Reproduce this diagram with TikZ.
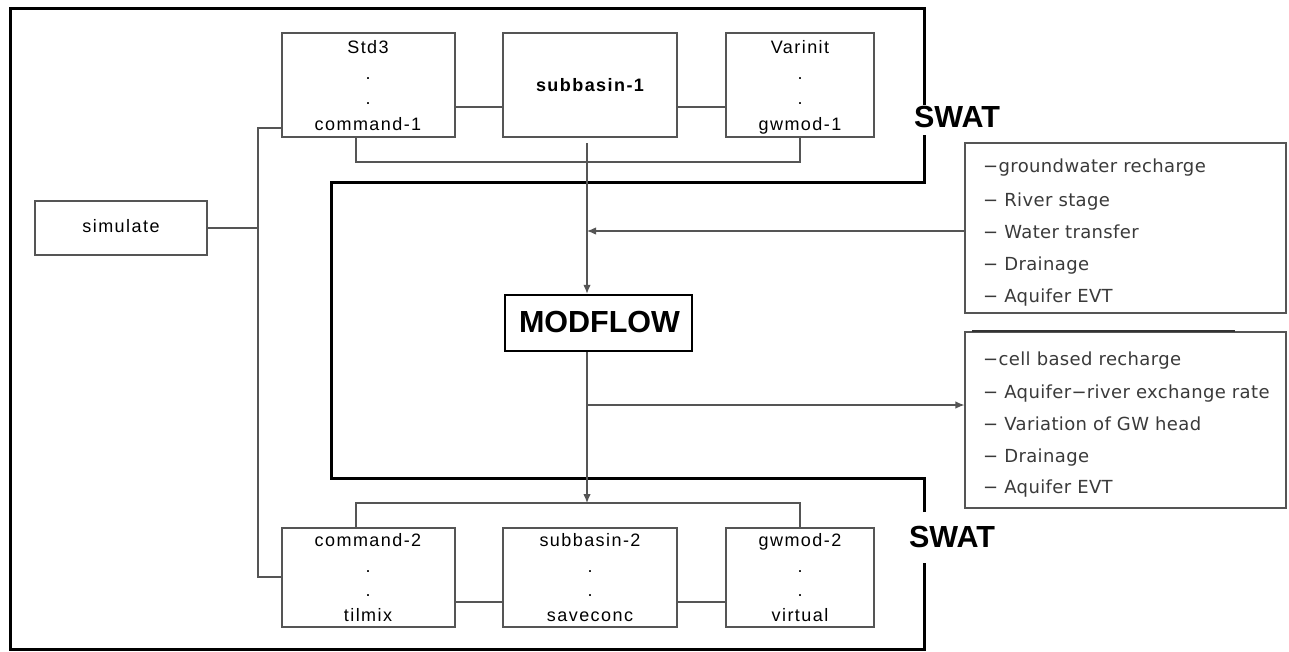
\documentclass[tikz,border=0pt]{standalone}
\usepackage{fontspec}
\usetikzlibrary{arrows.meta}
\setmainfont{Liberation Sans}
\newfontfamily\boxfont[LetterSpace=8]{Liberation Sans}
\newfontfamily\infofont[LetterSpace=2]{DejaVu Sans}
\newfontfamily\headfont{Liberation Sans}
\definecolor{linegray}{HTML}{555555}
\definecolor{infogray}{HTML}{3A3A3A}
\begin{document}
\begin{tikzpicture}[x=1pt,y=-1pt,
  thinline/.style={draw=linegray,line width=1.2pt},
  procbox/.style={thinline,fill=white,minimum width=#1,inner sep=0pt,anchor=center},
  boxtxt/.style={anchor=base,inner sep=0pt,font=\boxfont\fontsize{18}{20}\selectfont},
  infotxt/.style={anchor=base west,inner sep=0pt,text=infogray,font=\infofont\fontsize{18}{20}\selectfont},
  headtxt/.style={anchor=base,inner sep=0pt,font=\headfont\bfseries\fontsize{30.5}{32}\selectfont},
  frame/.style={line width=3pt,draw=black},
  tip/.style={-{Latex[length=9pt,width=7.5pt]}}]

\useasboundingbox[fill=white] (0,0) rectangle (1289,651);

% SWAT / MODFLOW outline
\draw[frame,line join=miter] (924,105) -- (924,8) -- (10,8) -- (10,649) -- (924,649) -- (924,563);
\draw[frame,line join=miter] (924,512) -- (924,478) -- (331,478) -- (331,182) -- (924,182) -- (924,135);
\node[headtxt] (swat1) at (957,127) {SWAT};
\node[headtxt] (swat2) at (952,547) {SWAT};

% upper SWAT row
\node[procbox=173pt,minimum height=104pt] (std3) at (368.5,85) {};
\node[procbox=174pt,minimum height=104pt] (sub1) at (590,85) {};
\node[procbox=148pt,minimum height=104pt] (var1) at (800,85) {};
\node[boxtxt] (t11) at (368,53) {Std3};
\node[boxtxt] (t12) at (368,79) {.};
\node[boxtxt] (t13) at (368,104) {.};
\node[boxtxt] (t14) at (368,130) {command-1};
\node[boxtxt,font=\boxfont\bfseries\fontsize{18}{20}\selectfont] (t21) at (590,91) {subbasin-1};
\node[boxtxt] (t31) at (800,53) {Varinit};
\node[boxtxt] (t32) at (800,79) {.};
\node[boxtxt] (t33) at (800,104) {.};
\node[boxtxt] (t34) at (800,130) {gwmod-1};

% lower SWAT row
\node[procbox=173pt,minimum height=99pt] (cmd2) at (368.5,577.5) {};
\node[procbox=174pt,minimum height=99pt] (sub2) at (590,577.5) {};
\node[procbox=148pt,minimum height=99pt] (gw2) at (800,577.5) {};
\node[boxtxt] (b11) at (368,546) {command-2};
\node[boxtxt] (b12) at (368,572) {.};
\node[boxtxt] (b13) at (368,596) {.};
\node[boxtxt] (b14) at (368,621) {tilmix};
\node[boxtxt] (b21) at (590,546) {subbasin-2};
\node[boxtxt] (b22) at (590,572) {.};
\node[boxtxt] (b23) at (590,596) {.};
\node[boxtxt] (b24) at (590,621) {saveconc};
\node[boxtxt] (b31) at (800,546) {gwmod-2};
\node[boxtxt] (b32) at (800,572) {.};
\node[boxtxt] (b33) at (800,596) {.};
\node[boxtxt] (b34) at (800,621) {virtual};

% driver and model
\node[procbox=172pt,minimum height=54pt] (sim) at (121,228) {};
\node[boxtxt] (simt) at (121,232) {simulate};
\node[draw=black,line width=2.5pt,fill=white,minimum width=187pt,minimum height=56pt,inner sep=0pt] (mf) at (598.5,323) {};
\node[headtxt] (mft) at (599.5,332) {MODFLOW};

% exchanged variables
\node[procbox=321pt,minimum height=170pt] (info1) at (1125.5,228) {};
\node[procbox=321pt,minimum height=176pt] (info2) at (1125.5,420) {};
\draw[line width=2pt,draw=black!80] (972,331) -- (1235,331);
\node[infotxt] (i11) at (983,172) {−groundwater recharge};
\node[infotxt] (i12) at (983,206) {− River stage};
\node[infotxt] (i13) at (983,238) {− Water transfer};
\node[infotxt] (i14) at (983,270) {− Drainage};
\node[infotxt] (i15) at (983,302) {− Aquifer EVT};
\node[infotxt] (i21) at (983,365) {−cell based recharge};
\node[infotxt] (i22) at (983,398) {− Aquifer−river exchange rate};
\node[infotxt] (i23) at (983,430) {− Variation of GW head};
\node[infotxt] (i24) at (983,462) {− Drainage};
\node[infotxt] (i25) at (983,493) {− Aquifer EVT};

% connectors
\coordinate (busT) at (258,128);
\coordinate (busB) at (258,577);
\draw[thinline] (std3.west |- busT) -- (busT) -- (busB) -- (cmd2.west |- busB);
\draw[thinline] (sim.east) -- (sim.east -| busT);

\coordinate (rowT) at (0,107);
\draw[thinline] (std3.east |- rowT) -- (sub1.west |- rowT);
\draw[thinline] (sub1.east |- rowT) -- (var1.west |- rowT);
\coordinate (brT) at (356,162);
\draw[thinline] (std3.south -| brT) -- (brT) -- (var1.south |- brT) -- (var1.south);

\coordinate (rowB) at (0,602);
\draw[thinline] (cmd2.east |- rowB) -- (sub2.west |- rowB);
\draw[thinline] (sub2.east |- rowB) -- (gw2.west |- rowB);
\coordinate (brB) at (356,503);
\draw[thinline] (cmd2.north -| brB) -- (brB) -- (gw2.north |- brB) -- (gw2.north);

\coordinate (trunkT) at (587,143);
\coordinate (inJ) at (587,231);
\coordinate (outJ) at (587,405);
\draw[thinline,tip] (trunkT) -- (trunkT |- mf.north);
\draw[thinline,tip] (info1.west |- inJ) -- (inJ);
\draw[thinline,tip] (mf.south -| trunkT) -- (trunkT |- brB);
\draw[thinline,tip] (outJ) -- (info2.west |- outJ);
\end{tikzpicture}
\end{document}
